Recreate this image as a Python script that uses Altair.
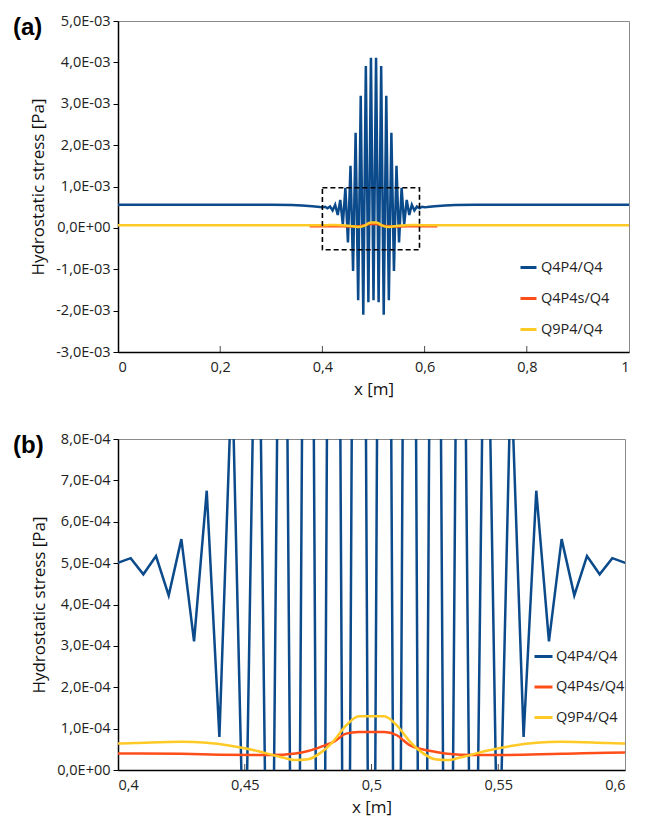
import altair as alt
import pandas as pd

# ---------------- data ----------------
SERIES = ["Q4P4/Q4", "Q4P4s/Q4", "Q9P4/Q4"]
COLORS = ["#0b4a8b", "#ff4d1a", "#ffc926"]

# Q4P4/Q4 (values in Pa)
x_q4p4 = [0.0, 0.1, 0.2, 0.3, 0.34, 0.36, 0.38, 0.39, 0.395,
          0.4, 0.405, 0.41, 0.415, 0.42, 0.425, 0.43, 0.435, 0.44, 0.445,
          0.45, 0.455, 0.46, 0.465, 0.47, 0.475, 0.48, 0.485, 0.49, 0.495,
          0.5, 0.505, 0.51, 0.515, 0.52, 0.525, 0.53, 0.535, 0.54, 0.545,
          0.55, 0.555, 0.56, 0.565, 0.57, 0.575, 0.58, 0.585, 0.59, 0.595,
          0.6, 0.605, 0.61, 0.62, 0.64, 0.66, 0.7, 0.8, 0.9, 1.0]
y_q4p4 = [5.6e-4, 5.6e-4, 5.6e-4, 5.58e-4, 5.5e-4, 5.4e-4, 5.25e-4, 5.12e-4, 5.05e-4,
          5.01e-4, 5.12e-4, 4.73e-4, 5.17e-4, 4.22e-4, 5.58e-4, 3.11e-4, 6.75e-4, 0.80e-4, 9.7e-4,
          -3.55e-4, 1.50e-3, -1.04e-3, 2.30e-3, -1.75e-3, 3.19e-3, -2.10e-3, 3.91e-3, -1.80e-3, 4.11e-3,
          -1.75e-3, 4.11e-3, -1.80e-3, 3.91e-3, -2.10e-3, 3.19e-3, -1.75e-3, 2.30e-3, -1.04e-3, 1.50e-3,
          -3.55e-4, 9.7e-4, 0.80e-4, 6.75e-4, 3.11e-4, 5.58e-4, 4.22e-4, 5.17e-4, 4.73e-4, 5.12e-4,
          5.01e-4, 5.05e-4, 5.12e-4, 5.25e-4, 5.4e-4, 5.5e-4, 5.58e-4, 5.6e-4, 5.6e-4, 5.6e-4]

# Q4P4s/Q4
x_q4p4s = [0.375, 0.4, 0.425, 0.44, 0.46, 0.47, 0.475, 0.48, 0.485, 0.49, 0.495,
           0.5, 0.505, 0.51, 0.515, 0.52, 0.525, 0.53, 0.54, 0.55, 0.575, 0.6, 0.625]
y_q4p4s = [0.41e-4, 0.40e-4, 0.39e-4, 0.37e-4, 0.36e-4, 0.40e-4, 0.46e-4, 0.56e-4, 0.68e-4, 0.88e-4, 0.92e-4,
           0.92e-4, 0.92e-4, 0.84e-4, 0.60e-4, 0.50e-4, 0.44e-4, 0.39e-4, 0.36e-4, 0.36e-4, 0.39e-4, 0.42e-4, 0.42e-4]

# Q9P4/Q4
x_q9p4 = [0.0, 0.2, 0.3, 0.38, 0.4, 0.41, 0.425, 0.435, 0.445, 0.455, 0.465, 0.47, 0.475,
          0.48, 0.485, 0.49, 0.495, 0.5, 0.505, 0.51, 0.515, 0.52, 0.525, 0.53, 0.535,
          0.545, 0.555, 0.565, 0.575, 0.59, 0.6, 0.62, 0.7, 0.8, 1.0]
y_q9p4 = [0.65e-4, 0.65e-4, 0.66e-4, 0.66e-4, 0.64e-4, 0.66e-4, 0.68e-4, 0.66e-4, 0.58e-4, 0.46e-4, 0.30e-4, 0.24e-4, 0.26e-4,
          0.42e-4, 0.70e-4, 1.08e-4, 1.30e-4, 1.30e-4, 1.30e-4, 1.08e-4, 0.70e-4, 0.42e-4, 0.26e-4, 0.24e-4, 0.30e-4,
          0.46e-4, 0.58e-4, 0.66e-4, 0.68e-4, 0.66e-4, 0.64e-4, 0.66e-4, 0.66e-4, 0.65e-4, 0.65e-4]

# zoom box drawn in panel (a)
box_x = [0.40, 0.59]
box_y = [-5.3e-4, 9.7e-4]

# axis ticks
xticks_a = [0, 0.2, 0.4, 0.6, 0.8, 1]
yticks_a = [-3e-3, -2e-3, -1e-3, 0, 1e-3, 2e-3, 3e-3, 4e-3, 5e-3]
xticks_b = [0.4, 0.45, 0.5, 0.55, 0.6]
yticks_b = [0, 1e-4, 2e-4, 3e-4, 4e-4, 5e-4, 6e-4, 7e-4, 8e-4]

# ---------------- build ----------------
rows = []
for name, xs, ys in [(SERIES[0], x_q4p4, y_q4p4), (SERIES[1], x_q4p4s, y_q4p4s), (SERIES[2], x_q9p4, y_q9p4)]:
    for a, b in zip(xs, ys):
        rows.append({"x": a, "y": b, "series": name})
df = pd.DataFrame(rows)

FONT = "Open Sans"
LABEL_SIZE = 14.5
cscale = alt.Scale(domain=SERIES, range=COLORS)

Y_LABEL_A = ("abs(datum.value) < 1e-12 ? '0,0E+00' : (datum.value < 0 ? '-' : '') + "
             "replace(format(abs(datum.value) * 1000, '.1f'), '.', ',') + 'E-03'")
Y_LABEL_B = ("abs(datum.value) < 1e-12 ? '0,0E+00' : "
             "replace(format(datum.value * 10000, '.1f'), '.', ',') + 'E-04'")
X_LABEL = "replace(format(datum.value, '.2~f'), '.', ',')"

ORIGIN_X_SHIFT = -105


def panel(tag, xdom, ydom, xticks, yticks, ylabel_expr, w, h, legend, inner_ticks, box=None):
    xs = alt.Scale(domain=xdom, nice=False, zero=False)
    ys = alt.Scale(domain=ydom, nice=False, zero=False)
    xaxis = alt.Axis(values=xticks, labelExpr=X_LABEL, title="x [m]", ticks=False,
                     labelPadding=8, titlePadding=8)
    yaxis = alt.Axis(values=yticks, labelExpr=ylabel_expr, title="Hydrostatic stress [Pa]",
                     tickSize=5, labelPadding=3, titlePadding=8)
    layers = []
    for i, s in enumerate(SERIES):
        interp = "linear" if i == 0 else "monotone"
        layers.append(
            alt.Chart(df).transform_filter(alt.datum.series == s)
            .mark_line(clip=True, strokeWidth=2.5, interpolate=interp)
            .encode(x=alt.X("x:Q", scale=xs, axis=xaxis),
                    y=alt.Y("y:Q", scale=ys, axis=yaxis),
                    color=alt.Color("series:N", scale=cscale, legend=legend))
        )
    tdf = pd.DataFrame({"x": inner_ticks})
    layers.append(
        alt.Chart(tdf).mark_tick(color="black", thickness=1, size=6, orient="vertical")
        .encode(x=alt.X("x:Q", scale=xs), y=alt.value(h - 3))
    )
    if box is not None:
        bdf = pd.DataFrame({"x1": [box[0][0]], "x2": [box[0][1]], "y1": [box[1][0]], "y2": [box[1][1]]})
        layers.append(
            alt.Chart(bdf).mark_rect(filled=False, stroke="black", strokeWidth=1.6,
                                     strokeDash=[5, 3], fillOpacity=0)
            .encode(x=alt.X("x1:Q", scale=xs), x2="x2:Q", y=alt.Y("y1:Q", scale=ys), y2="y2:Q")
        )
    tagdf = pd.DataFrame({"t": [tag]})
    layers.append(
        alt.Chart(tagdf).mark_text(align="left", baseline="middle", fontSize=24, fontWeight="bold",
                                   font="Liberation Sans", color="black")
        .encode(x=alt.value(ORIGIN_X_SHIFT), y=alt.value(7), text="t:N")
    )
    return alt.layer(*layers).properties(width=w, height=h)


leg_a = alt.Legend(orient="none", legendX=401, legendY=237, title=None, symbolType="stroke",
                   symbolStrokeWidth=3, symbolSize=256, labelFont=FONT, labelFontSize=LABEL_SIZE,
                   labelOffset=3, rowPadding=15, padding=0, labelColor="#222")
leg_b = alt.Legend(orient="none", legendX=415, legendY=207, title=None, symbolType="stroke",
                   symbolStrokeWidth=3, symbolSize=324, labelFont=FONT, labelFontSize=LABEL_SIZE,
                   labelOffset=2, rowPadding=13.5, padding=0, labelColor="#222")

pa = panel("(a)", [0, 1], [-3e-3, 5e-3], xticks_a, yticks_a, Y_LABEL_A, 511, 331, leg_a,
           [0.2, 0.4, 0.6, 0.8], box=(box_x, box_y))
pb = panel("(b)", [0.4, 0.6], [0, 8e-4], xticks_b, yticks_b, Y_LABEL_B, 507, 331, leg_b,
           [0.45, 0.5, 0.55])

chart = (
    alt.vconcat(pa, pb, spacing=32)
    .resolve_legend(color="independent")
    .properties(padding={"left": 12, "top": 12, "right": 0, "bottom": 5}, background="white")
    .configure_view(stroke="#8a8a8a", strokeWidth=1)
    .configure_axis(domainColor="black", domainWidth=1.5, tickColor="black", tickWidth=1,
                    labelFont=FONT, labelFontSize=LABEL_SIZE, labelColor="#222",
                    titleFont=FONT, titleFontSize=17, titleFontWeight="normal", titleColor="#111",
                    grid=False)
)

chart.save("out.html", embed_options={"renderer": "svg", "actions": False})
